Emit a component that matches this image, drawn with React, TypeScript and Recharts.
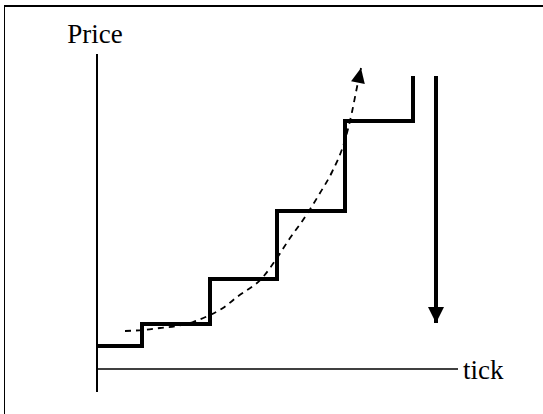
import { ComposedChart, Line, XAxis, YAxis, ReferenceLine, Label } from 'recharts'

// staircase price path (stepAfter)
const stepX = [0, 4.5, 11.3, 18.0, 24.8, 31.6]
const stepY = [2.3, 4.5, 9.0, 15.8, 24.8, 29.3]

// dashed trend curve, ends in an arrowhead
const curveX = [2.8, 4.6, 6.3, 8.0, 9.6, 11.3, 12.6, 14.0, 16.6, 18.0, 19.3, 20.6, 22.3, 23.5, 24.8, 25.5, 25.9, 26.4]
const curveY = [3.8, 3.9, 4.1, 4.3, 4.7, 5.4, 6.1, 7.2, 9.2, 11.1, 13.1, 14.9, 17.6, 19.7, 22.9, 25.7, 27.7, 30.1]

// downward arrow
const dropX = [33.9, 33.9]
const dropY = [29.3, 4.6]

const xLabel = 'tick'
const yLabel = 'Price'

const stepData = stepX.map((x, i) => ({ x, y: stepY[i] }))
const curveData = curveX.map((x, i) => ({ x, y: curveY[i] }))
const dropData = dropX.map((x, i) => ({ x, y: dropY[i] }))

// arrowhead drawn at the last point, pointing along the last segment
// eslint-disable-next-line @typescript-eslint/no-explicit-any
function ArrowHead(props: any) {
  const { cx, cy, index, points, size = 15, width = 14 } = props
  if (!points || index !== points.length - 1) return <g key={`a-${index}`} />
  const prev = points[index - 1]
  const dx = cx - prev.x
  const dy = cy - prev.y
  const len = Math.sqrt(dx * dx + dy * dy) || 1
  const ux = dx / len
  const uy = dy / len
  const bx = cx - ux * size
  const by = cy - uy * size
  const px = -uy * (width / 2)
  const py = ux * (width / 2)
  const d = `M${cx},${cy} L${bx + px},${by + py} L${bx - px},${by - py} Z`
  return <path key={`a-${index}`} d={d} fill="#000" stroke="none" />
}

export default function App() {
  return (
    <div style={{ position: 'absolute', left: 0, top: 0, width: 543, height: 414, background: '#fff' }}>
      <div
        style={{
          position: 'absolute',
          left: 4,
          top: 5,
          right: 0,
          bottom: 0,
          borderLeft: '1.5px solid #000',
          borderTop: '2px solid #000',
        }}
      />
      <ComposedChart
        width={543}
        height={414}
        margin={{ top: 54, right: 85, left: 97, bottom: 22 }}
        style={{ position: 'absolute', left: 0, top: 0, fontFamily: '"Liberation Serif", serif' }}
      >
        <XAxis type="number" dataKey="x" domain={[0, 36.1]} hide allowDataOverflow />
        <YAxis type="number" dataKey="y" domain={[-2.3, 31.5]} hide allowDataOverflow />
        <ReferenceLine x={0} stroke="#000" strokeWidth={2}>
          <Label value={yLabel} position="top" offset={11} dx={-2} fill="#000" fontSize={27} />
        </ReferenceLine>
        <ReferenceLine y={0} stroke="#000" strokeWidth={1.5}>
          <Label value={xLabel} position="right" offset={5} fill="#000" fontSize={27} />
        </ReferenceLine>
        <Line
          data={stepData}
          dataKey="y"
          type="stepAfter"
          stroke="#000"
          strokeWidth={4}
          dot={false}
          isAnimationActive={false}
        />
        <Line
          data={curveData}
          dataKey="y"
          type="monotone"
          stroke="#000"
          strokeWidth={1.8}
          strokeDasharray="6 5"
          dot={(p: any) => <ArrowHead {...p} size={15} width={14} />}
          isAnimationActive={false}
        />
        <Line
          data={dropData}
          dataKey="y"
          type="linear"
          stroke="#000"
          strokeWidth={4}
          dot={(p: any) => <ArrowHead {...p} size={16} width={16} />}
          isAnimationActive={false}
        />
      </ComposedChart>
    </div>
  )
}
